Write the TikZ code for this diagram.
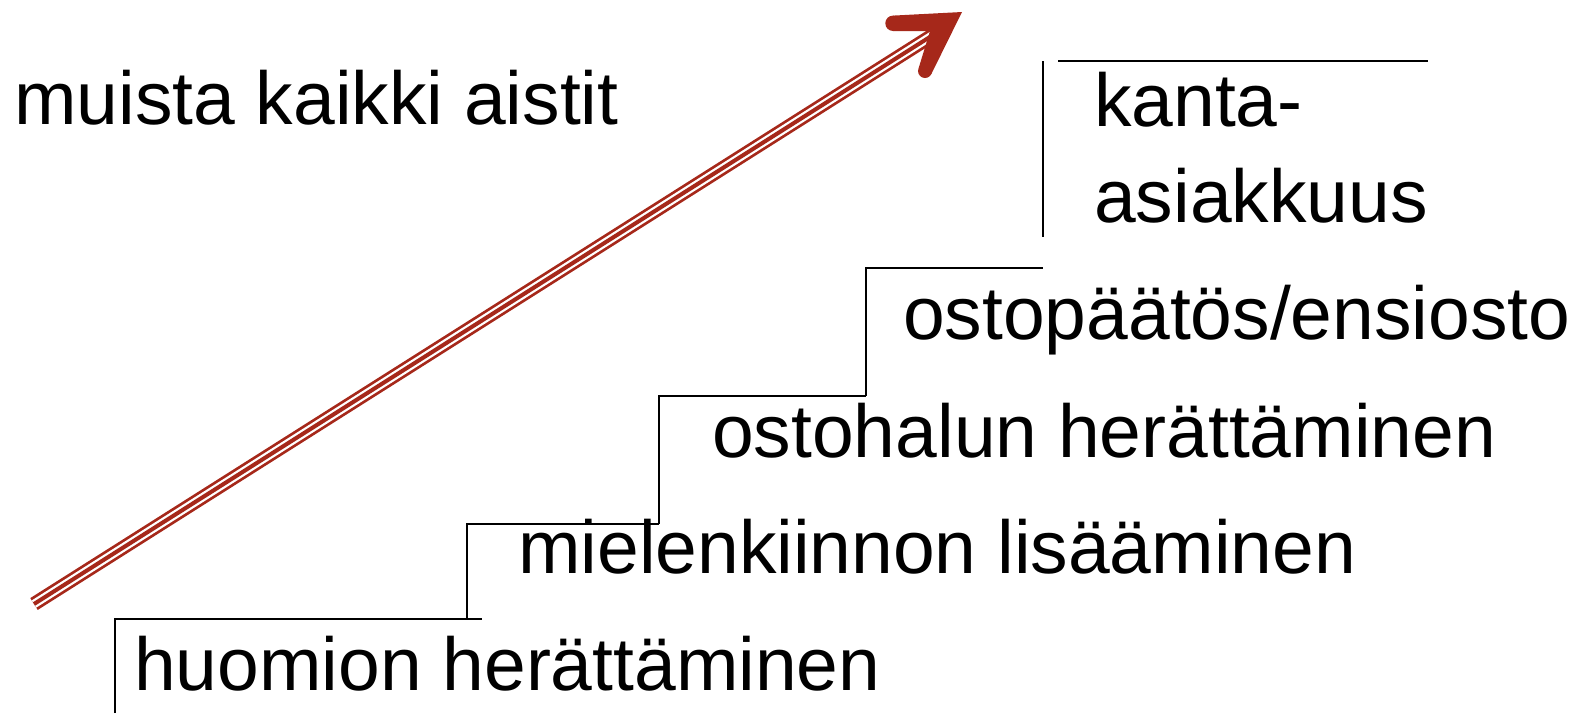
\documentclass[tikz,border=0pt]{standalone}
\usepackage{fontspec}
\setmainfont{Liberation Sans}
\definecolor{arrred}{RGB}{166,40,26}
\begin{document}
\begin{tikzpicture}[x=1pt,y=-1pt,
  lbl/.style={anchor=base west, inner sep=0pt, font=\fontsize{75}{97}\selectfont},
  stairline/.style={line width=2pt, black}]
\useasboundingbox (0,0) rectangle (1576,713);
% labels
\node[lbl] (muista) at (14,124) {muista kaikki aistit};
\node[lbl] (kanta) at (1094,126) {kanta-};
\node[lbl] (asiak) at (1094,222) {asiakkuus};
\node[lbl] (osto) at (903,339) {ostopäätös/ensiosto};
\node[lbl] (halu) at (712,457) {ostohalun herättäminen};
\node[lbl] (miel) at (518,573) {mielenkiinnon lisääminen};
\node[lbl] (huom) at (134,690) {huomion herättäminen};
% stairs
\draw[stairline] (115,713) -- (115,619) -- (482,619);
\draw[stairline] (467,619) -- (467,524) -- (659,524);
\draw[stairline] (659,524) -- (659,396) -- (866,396);
\draw[stairline] (866,396) -- (866,268) -- (1043,268);
\draw[stairline] (1043,61) -- (1043,237);
\draw[stairline] (1058,61) -- (1428,61);
% arrow shaft
\coordinate (tail) at (34,604);
\coordinate (head) at (933,35);
\draw[arrred, line width=14pt] (tail) -- (head);
\draw[white, line width=8.5pt] (tail) -- (head);
\draw[arrred, line width=4pt] (tail) -- (head);
% arrow head
\coordinate (tip) at (962,12);
\coordinate (b1c) at (893,23.3);
\coordinate (b2c) at (925,71);
\fill[arrred] (tip) -- (893,15.6) -- (893,31) -- (930,31) -- (918.7,67.9) -- (931.3,74.1) -- cycle;
\fill[arrred] (b1c) circle[radius=7.7pt];
\fill[arrred] (b2c) circle[radius=7pt];
\end{tikzpicture}
\end{document}
